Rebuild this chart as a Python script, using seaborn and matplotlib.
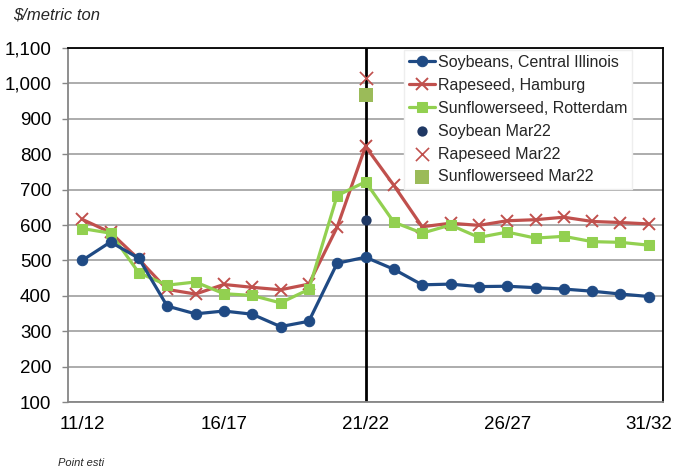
import numpy as np
import seaborn as sns
import matplotlib.pyplot as plt
from matplotlib.ticker import FuncFormatter, MultipleLocator

years = ["11/12", "12/13", "13/14", "14/15", "15/16", "16/17", "17/18", "18/19", "19/20",
         "20/21", "21/22", "22/23", "23/24", "24/25", "25/26", "26/27", "27/28", "28/29",
         "29/30", "30/31", "31/32"]
soybeans = [500, 552, 506, 371, 349, 357, 348, 313, 328, 492, 509, 475, 431, 433, 426,
            427, 423, 419, 413, 405, 398]
rapeseed = [616, 579, 503, 418, 405, 432, 424, 417, 433, 594, 822, 712, 595, 605, 599,
            612, 615, 622, 610, 607, 603]
sunflower = [590, 577, 465, 430, 439, 406, 401, 380, 418, 683, 722, 608, 577, 600, 565,
             580, 563, 568, 553, 551, 543]
mar22_year = "21/22"
mar22_soy = 613
mar22_rape = 1016
mar22_sun = 966

sns.set_style("white")
plt.rcParams["font.family"] = ["Liberation Sans", "DejaVu Sans"]

x = np.arange(len(years))
xm = years.index(mar22_year)

fig = plt.figure(figsize=(6.76, 4.73), dpi=100)
ax = fig.add_axes([68 / 676, 71 / 473, 595 / 676, 354 / 473])

ax.axvline(xm, color="black", lw=2, zorder=2)

sns.lineplot(x=x, y=soybeans, ax=ax, color="#1F4A84", lw=2.3, marker="o", ms=7.5,
             mec="#1F4A84", label="Soybeans, Central Illinois", zorder=4)
sns.lineplot(x=x, y=rapeseed, ax=ax, color="#C0504D", lw=2.3, marker="x", ms=9, mew=1.4,
             mec="#C0504D", label="Rapeseed, Hamburg", zorder=3)
sns.lineplot(x=x, y=sunflower, ax=ax, color="#92D050", lw=2.3, marker="s", ms=7.5,
             mec="#92D050", label="Sunflowerseed, Rotterdam", zorder=3)
sns.scatterplot(x=[xm], y=[mar22_soy], ax=ax, color="#1F3864", s=55, marker="o",
                linewidth=0, label="Soybean Mar22", zorder=5)
sns.scatterplot(x=[xm], y=[mar22_rape], ax=ax, color="#C0504D", s=90, marker="x",
                linewidth=1.2, label="Rapeseed Mar22", zorder=5)
sns.scatterplot(x=[xm], y=[mar22_sun], ax=ax, color="#9BBB59", s=90, marker="s",
                linewidth=0, label="Sunflowerseed Mar22", zorder=5)

ax.set_xlim(-0.5, len(years) - 0.5)
ax.set_ylim(100, 1100)
ax.yaxis.set_major_locator(MultipleLocator(100))
ax.yaxis.set_major_formatter(FuncFormatter(lambda v, p: f"{int(v):,}"))
ax.set_xticks(x[::5])
ax.set_xticklabels(years[::5])
ax.set_xticks(np.arange(-0.5, len(years), 1), minor=True)
ax.tick_params(axis="x", which="major", length=0, pad=10, labelsize=13.5, colors="black")
ax.tick_params(axis="x", which="minor", length=4, width=1, color="#868686", direction="out")
ax.tick_params(axis="y", length=4, width=1, color="#868686", pad=8, labelsize=13.5,
               labelcolor="black", left=True)
ax.grid(axis="y", color="#A6A6A6", lw=1.3, zorder=0)
ax.set_axisbelow(True)

for side in ["left", "bottom"]:
    ax.spines[side].set_color("#868686")
    ax.spines[side].set_linewidth(1.3)
for side in ["top", "right"]:
    ax.spines[side].set_color("black")
    ax.spines[side].set_linewidth(1.3)

ax.set_xlabel("")
ax.set_ylabel("")

leg = ax.legend(loc="upper left", bbox_to_anchor=(0.565, 0.995), borderaxespad=0,
                fontsize=11.5, frameon=True, fancybox=False, framealpha=1,
                edgecolor="#EEEEEE", handlelength=1.6, handletextpad=0.2,
                labelspacing=0.5, borderpad=0.3)
leg.set_zorder(10)

fig.text(13 / 676, 1 - 15 / 473, "$/metric ton", fontsize=12, style="italic",
         va="center", ha="left")
fig.text(58 / 676, 1 - 463 / 473, "Point esti", fontsize=8, style="italic",
         va="center", ha="left")

fig.savefig("out.png", dpi=100)
